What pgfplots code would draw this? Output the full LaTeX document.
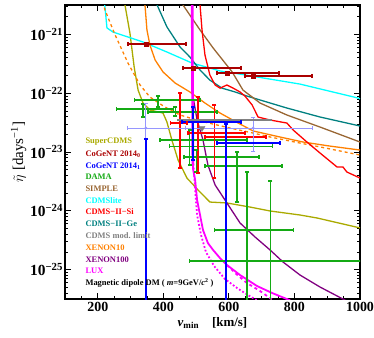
\documentclass[border=0pt]{standalone}
\usepackage{pgfplots}
\pgfplotsset{compat=1.18}
\usepackage{fontspec}
\setmainfont{Liberation Serif}
\definecolor{olive2}{RGB}{170,170,0}
\definecolor{dred}{RGB}{170,0,0}
\definecolor{dama}{RGB}{20,170,20}
\definecolor{simple}{RGB}{153,102,51}
\definecolor{teal2}{RGB}{0,128,128}
\definecolor{xorange}{RGB}{255,128,0}
\definecolor{xpurple}{RGB}{128,0,128}
\definecolor{lblue}{RGB}{150,150,255}
\definecolor{cyn}{RGB}{0,255,255}
\definecolor{mag}{RGB}{255,0,255}
\definecolor{rd}{RGB}{255,0,0}
\definecolor{bl}{RGB}{0,0,255}
\definecolor{gry}{RGB}{128,128,128}
\newcommand{\HB}[4]{\addplot[#1, mark=|, mark size=2.2pt] coordinates {(#2,#4) (#3,#4)};}
\newcommand{\VB}[4]{\addplot[#1, mark=-, mark size=2.2pt] coordinates {(#2,#3) (#2,#4)};}
\newcommand{\VBo}[4]{\addplot[#1, mark=-, mark indices={1}, mark size=2.2pt] coordinates {(#2,#3) (#2,#4)};}
\newcommand{\lfont}{\fontsize{8.5}{9}\selectfont\bfseries}
\begin{document}
\begin{tikzpicture}
\begin{axis}[
  scale only axis, width=295bp, height=294bp,
  xmin=100, xmax=1000, ymode=log, ymin=3.162e-26, ymax=3.162e-21,
  axis line style={line width=1.3bp},
  tick style={black, line width=0.8bp},
  major tick length=6bp, minor tick length=3bp,
  tick align=inside,
  xtick={200,400,600,800,1000}, xticklabels={200,400,600,800,1000},
  minor xtick={150,250,300,350,450,500,550,650,700,750,850,900,950},
  ytick={1e-25,1e-24,1e-23,1e-22,1e-21},
  yticklabels={10\textsuperscript{−25},10\textsuperscript{−24},10\textsuperscript{−23},10\textsuperscript{−22},10\textsuperscript{−21}},
  minor ytick={4e-26,5e-26,6e-26,7e-26,8e-26,9e-26,2e-25,3e-25,4e-25,5e-25,6e-25,7e-25,8e-25,9e-25,2e-24,3e-24,4e-24,5e-24,6e-24,7e-24,8e-24,9e-24,2e-23,3e-23,4e-23,5e-23,6e-23,7e-23,8e-23,9e-23,2e-22,3e-22,4e-22,5e-22,6e-22,7e-22,8e-22,9e-22,2e-21,3e-21},
  xticklabel style={font=\fontsize{14}{14}\selectfont\bfseries},
  yticklabel style={font=\fontsize{15.5}{16}\selectfont\bfseries, xshift=1.5bp},
  xlabel={{\bfseries\itshape v}\textsubscript{\bfseries min}\quad{\bfseries [km/s]}},
  ylabel={$\tilde{\eta}$ [days\textsuperscript{−1}]},
  xlabel style={font=\fontsize{13}{14}\selectfont, yshift=1bp},
  ylabel style={font=\fontsize{15}{16}\selectfont, yshift=-3bp},
]
\coordinate (SW) at (rel axis cs:0,0);
\coordinate (NE) at (rel axis cs:1,1);
% SuperCDMS
\addplot[olive2, line width=1.3pt] coordinates {(282,4.0e-21) (283,3.16e-21) (298,1.06e-21) (311,2.79e-22) (323,1.13e-22) (338,6.81e-23) (359,5.18e-23) (399,4.60e-23) (411,3.24e-23) (426,1.60e-23) (445,7.31e-24) (472,3.61e-24) (506,2.26e-24) (542,1.41e-24) (594,1.36e-24) (664,1.16e-24) (726,9.93e-25) (817,8.49e-25) (869,7.55e-25) (1000,5.12e-25)};
% CDMSlite
\addplot[cyn, line width=1.3pt] coordinates {(219,3.85e-21) (222,2.92e-21) (228,1.29e-21) (246,1.10e-21) (338,7.43e-22) (411,5.02e-22) (487,3.27e-22) (573,2.39e-22) (613,2.21e-22) (817,1.43e-22) (994,8.28e-23) (1000,8.0e-23)};
% XENON10
\addplot[xorange, line width=1.3pt] coordinates {(343,3.6e-21) (344,3.16e-21) (350,1.19e-21) (359,6.61e-22) (375,3.67e-22) (399,2.30e-22) (436,1.49e-22) (481,1.05e-22) (527,6.81e-23) (573,4.60e-23) (634,2.99e-23) (674,2.28e-23) (756,1.80e-23) (826,1.48e-23) (909,1.26e-23) (1000,1.08e-23)};
\addplot[xorange, line width=1.3pt, dashed] coordinates {(216,3.6e-21) (222,2.60e-21) (253,9.77e-22) (292,3.27e-22) (329,1.38e-22) (359,8.61e-23) (405,5.82e-23) (451,4.26e-23) (512,3.37e-23) (603,2.56e-23) (674,2.10e-23) (726,1.80e-23) (817,1.42e-23) (878,1.22e-23) (1000,8.89e-24)};
% CDMS-II-Ge
\addplot[teal2, line width=1.3pt] coordinates {(375,3.85e-21) (381,3.16e-21) (411,1.34e-21) (451,6.11e-22) (481,4.13e-22) (512,2.48e-22) (542,1.67e-22) (579,1.22e-22) (619,1.05e-22) (655,8.95e-23) (716,7.08e-23) (777,5.60e-23) (878,3.94e-23) (1000,2.77e-23)};
% SIMPLE
\addplot[simple, line width=1.3pt] coordinates {(454,3.85e-21) (460,3.16e-21) (512,1.19e-21) (552,5.87e-22) (610,2.30e-22) (643,1.13e-22) (671,8.61e-23) (695,6.81e-23) (777,4.26e-23) (878,2.66e-23) (1000,1.48e-23)};
% CDMS-II-Si
\addplot[rd, line width=1.3pt] coordinates {(509,3.85e-21) (512,3.16e-21) (518,1.19e-21) (527,4.47e-22) (542,2.04e-22) (558,1.38e-22) (573,1.22e-22) (594,1.38e-22) (613,1.22e-22) (634,1.05e-22) (649,8.95e-23) (671,6.30e-23) (689,3.94e-23) (726,3.50e-23) (777,3.11e-23) (796,2.37e-23) (838,1.48e-23) (878,9.62e-24) (930,5.56e-24) (948,5.56e-24) (960,4.57e-24) (1000,3.61e-24)};
% XENON100
\addplot[xpurple, line width=1.3pt] coordinates {(487,1.13e-22) (503,3.50e-23) (521,1.60e-23) (536,6.01e-24) (558,2.75e-24) (588,1.53e-24) (634,6.21e-25) (680,3.58e-25) (726,2.15e-25) (765,1.35e-25) (817,8.09e-26) (878,5.06e-26) (948,3.16e-26) (970,2.7e-26)};
% LUX
\addplot[mag, line width=2.6pt] coordinates {(488,4e-21) (490,6e-24)};
\addplot[mag, line width=1.8pt] coordinates {(490,6e-24) (491,5e-24) (497,3.34e-24) (503,1.53e-24) (512,8.49e-25) (521,4.71e-25) (536,2.83e-25) (552,2.15e-25) (573,1.57e-25) (594,1.20e-25) (634,8.09e-26) (686,5.26e-26) (732,4.0e-26) (787,3.0e-26)};
\addplot[mag, line width=1.8pt, dashed] coordinates {(594,1.20e-25) (619,8.75e-26) (655,5.92e-26) (695,4.33e-26) (735,3.0e-26)};
\addplot[mag, line width=1.8pt, dotted] coordinates {(491,7.31e-24) (497,2.26e-24) (503,8.49e-25) (515,3.87e-25) (530,1.99e-25) (555,1.15e-25) (588,6.92e-26) (625,4.86e-26) (658,3.70e-26) (686,3.0e-26)};
% DAMA
\HB{dama, line width=1.2pt}{311}{512}{7.66e-23} \VB{dama, line width=1.2pt}{384}{8.95e-23}{5.82e-23}
\HB{dama, line width=1.2pt}{256}{430}{5.38e-23} \VB{dama, line width=1.2pt}{338}{6.55e-23}{3.94e-23}
\HB{dama, line width=1.2pt}{353}{564}{4.79e-23} \VB{dama, line width=1.2pt}{436}{5.82e-23}{4.09e-23}
\HB{dama, line width=1.2pt}{390}{655}{1.60e-23} \VB{dama, line width=1.2pt}{481}{2.37e-23}{6.01e-24}
\HB{dama, line width=1.2pt}{419}{732}{1.26e-23}
\HB{dama, line width=1.2pt}{463}{692}{8.22e-24} \VB{dama, line width=1.2pt}{500}{1.08e-23}{4.57e-24}
\HB{dama, line width=1.2pt}{527}{762}{5.78e-24} \VB{dama, line width=1.2pt}{625}{1.0e-23}{1.41e-24}
\HB{dama, line width=1.2pt}{555}{796}{4.71e-25} \VBo{dama, line width=1.2pt}{655}{4.57e-24}{1e-26}
\HB{dama, line width=1.2pt}{481}{1050}{1.40e-25} \VBo{dama, line width=1.2pt}{726}{3.21e-24}{1e-26}
% CDMS-II-Si data
\HB{rd, line width=1.2pt}{423}{472}{3.11e-23} \VB{rd, line width=1.2pt}{451}{1.01e-22}{5.35e-24}
\HB{rd, line width=1.2pt}{475}{649}{2.10e-23} \VB{rd, line width=1.2pt}{506}{8.61e-23}{4.40e-24}
\HB{rd, line width=1.2pt}{527}{713}{1.80e-23} \VB{rd, line width=1.2pt}{555}{6.30e-23}{3.61e-24}
% CoGeNT 2014_0
\HB{dred, line width=1.3pt}{292}{469}{6.87e-22} \HB{dred, line width=1.3pt}{460}{637}{2.69e-22}
\HB{dred, line width=1.3pt}{564}{753}{2.21e-22} \HB{dred, line width=1.3pt}{649}{854}{1.96e-22}
\addplot[only marks, dred, mark=square*, mark size=1.8pt] coordinates {(347,6.87e-22) (491,2.69e-22) (594,2.21e-22) (674,1.96e-22)};
% CoGeNT 2014_1
\HB{lblue, line width=1pt}{292}{469}{2.56e-23} \VB{lblue, line width=1pt}{347}{6.81e-23}{1.66e-23}
\HB{lblue, line width=1pt}{469}{854}{2.56e-23} \VB{lblue, line width=1pt}{674}{3.94e-23}{1.04e-23}
\addplot[only marks, lblue, mark=*, mark size=1.2pt] coordinates {(347,2.56e-23) (674,2.56e-23)};
\VBo{bl, line width=1.4pt}{347}{1.66e-23}{1e-26}
\HB{bl, line width=1.6pt}{457}{637}{3.24e-23} \VB{bl, line width=1.6pt}{491}{5.82e-23}{7.31e-24}
\HB{bl, line width=1.6pt}{564}{756}{1.42e-23} \VBo{bl, line width=1.6pt}{591}{2.99e-23}{1e-26}
% CDMS modulation limit
\addplot[gry, line width=2pt] coordinates {(442,3.50e-23) (732,3.50e-23)};
\addplot[only marks, gry, mark=triangle*, mark options={rotate=180}, mark size=3.5pt] coordinates {(518,2.56e-23)};
% legend
\node[anchor=west, text=olive2, font=\lfont] at (rel axis cs:0.0576,0.534) {SuperCDMS};
\node[anchor=west, text=dred, font=\lfont] at (rel axis cs:0.0576,0.4932) {CoGeNT 2014\textsubscript{0}};
\node[anchor=west, text=bl, font=\lfont] at (rel axis cs:0.0576,0.4524) {CoGeNT 2014\textsubscript{1}};
\node[anchor=west, text=dama, font=\lfont] at (rel axis cs:0.0576,0.415) {DAMA};
\node[anchor=west, text=simple, font=\lfont] at (rel axis cs:0.0576,0.374) {SIMPLE};
\node[anchor=west, text=cyn, font=\lfont] at (rel axis cs:0.0576,0.3333) {CDMSlite};
\node[anchor=west, text=rd, font=\lfont] at (rel axis cs:0.0576,0.296) {CDMS−II−Si};
\node[anchor=west, text=teal2, font=\lfont] at (rel axis cs:0.0576,0.255) {CDMS−II−Ge};
\node[anchor=west, text=gry, font=\lfont] at (rel axis cs:0.0576,0.2143) {CDMS mod. limit};
\node[anchor=west, text=xorange, font=\lfont] at (rel axis cs:0.0576,0.1735) {XENON10};
\node[anchor=west, text=xpurple, font=\lfont] at (rel axis cs:0.0576,0.1344) {XENON100};
\node[anchor=west, text=mag, font=\lfont] at (rel axis cs:0.0576,0.0952) {LUX};
\node[anchor=west, text=black, font=\lfont] at (rel axis cs:0.0576,0.0544) {Magnetic dipole DM ( \textit{m}=9GeV/\textit{c}\textsuperscript{2} )};
\end{axis}
\pgfresetboundingbox
\path[use as bounding box] ([shift={(-65bp,-38bp)}]SW) rectangle ([shift={(14bp,5bp)}]NE);
\end{tikzpicture}
\end{document}
